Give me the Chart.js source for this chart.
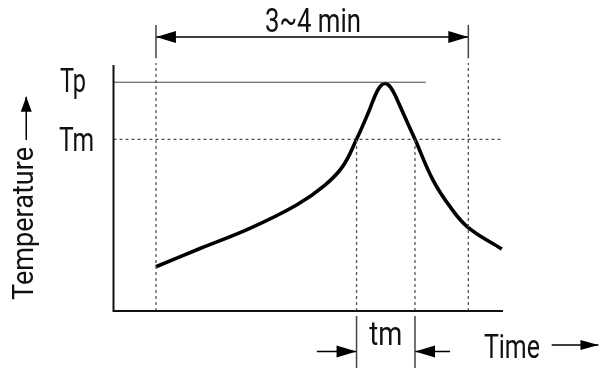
<!DOCTYPE html>
<html>
<head>
<meta charset="utf-8">
<script src="https://cdn.jsdelivr.net/npm/chart.js@4"></script>
<style>
html,body{margin:0;padding:0;background:#fff;}
#wrap{width:607px;height:369px;}
</style>
</head>
<body>
<div id="wrap"><canvas id="c" width="607" height="369"></canvas></div>
<script>
// ---- Data (schematic units: time 0..100, temperature 0..100) ----
const curveX = [10.9, 22.2, 35.0, 47.0, 54.3, 58.9, 62.4, 65.6, 66.6, 67.65, 68.7, 69.7, 70.7, 71.75, 72.8, 73.95, 77.4, 82.0, 86.4, 91.1, 99.7];
const curveY = [18.0, 25.4, 33.6, 43.1, 51.2, 58.9, 69.8, 81.3, 85.4, 89.2, 91.7, 92.5, 91.7, 89.4, 86.0, 81.9, 69.8, 53.3, 42.4, 33.9, 25.2];
const levelLabels = ['Tp', 'Tm'];
const levelValues = [93.0, 69.8];
const tpLineEnd = 80.2;
const markerTimes = [10.9, 62.4, 77.4, 91.1]; // profile start, tm start, tm end, profile end
const spanLabel = '3~4 min';
const tmLabel = 'tm';
const xLabel = 'Time';
const yLabel = 'Temperature';

// annotation levels (in chart units, outside plot area)
const spanY = 111.4, spanTickLo = 102.7, spanTickHi = 116.3, spanDotTop = 100.8;
const tmArrowY = -16.5, tmTickLo = -23.2, tmTickHi = -2.0;

const pts = (xs, ys) => xs.map((x, i) => ({x, y: ys[i]}));
const seg = (x1, y1, x2, y2) => [{x: x1, y: y1}, {x: x2, y: y2}];

const base = {pointRadius: 0, tension: 0, fill: false, borderColor: '#000', clip: false};
const datasets = [];

// axes
datasets.push({...base, data: [{x:0,y:100},{x:0,y:0},{x:100,y:0}], borderWidth: 2, borderColor: '#111'});
// Tp level line
datasets.push({...base, data: seg(0, levelValues[0], tpLineEnd, levelValues[0]), borderWidth: 1, borderColor: '#444'});
// Tm dotted level
datasets.push({...base, data: seg(0, levelValues[1], 100, levelValues[1]), borderWidth: 1, borderColor: '#222', borderDash: [3, 3]});
// vertical dotted markers
[markerTimes[0], markerTimes[3]].forEach(t => datasets.push({...base, data: seg(t, 0, t, spanDotTop), borderWidth: 1.3, borderColor: '#555', borderDash: [3, 3]}));
[markerTimes[1], markerTimes[2]].forEach(t => datasets.push({...base, data: seg(t, 0, t, levelValues[1]), borderWidth: 1.3, borderColor: '#555', borderDash: [3, 3]}));
// solid ticks
[markerTimes[0], markerTimes[3]].forEach(t => datasets.push({...base, data: seg(t, spanTickLo, t, spanTickHi), borderWidth: 1.5, borderColor: '#444'}));
[markerTimes[1], markerTimes[2]].forEach(t => datasets.push({...base, data: seg(t, tmTickLo, t, tmTickHi), borderWidth: 1.5, borderColor: '#444'}));
// span dimension line
datasets.push({...base, data: seg(markerTimes[0], spanY, markerTimes[3], spanY), borderWidth: 1.5});
// tm arrows lines
datasets.push({...base, data: seg(52.2, tmArrowY, markerTimes[1], tmArrowY), borderWidth: 1.5});
datasets.push({...base, data: seg(86.4, tmArrowY, markerTimes[2], tmArrowY), borderWidth: 1.5});
// axis-name arrows
datasets.push({...base, data: seg(112.5, -13.8, 124.5, -13.8), borderWidth: 1.5});
datasets.push({...base, data: seg(-22.4, 69.5, -22.4, 87.1), borderWidth: 1.5});
// temperature curve
datasets.push({...base, data: pts(curveX, curveY), borderWidth: 3.6, borderColor: '#000', tension: 0.4, borderCapStyle: 'butt', borderJoinStyle: 'round'});

const arrowHeads = [
  {x: markerTimes[0], y: spanY, dir: 'left'},
  {x: markerTimes[3], y: spanY, dir: 'right'},
  {x: markerTimes[1], y: tmArrowY, dir: 'right'},
  {x: markerTimes[2], y: tmArrowY, dir: 'left'},
  {x: 124.5, y: -13.8, dir: 'right', len: 18, hw: 5},
  {x: -22.4, y: 87.1, dir: 'up', len: 15, hw: 5.5}
];

const FONT = "Roboto, 'Liberation Sans', sans-serif";

function drawText(ctx, text, px, py, targetW, size, align, rot) {
  ctx.save();
  ctx.font = size + 'px ' + FONT;
  const w = ctx.measureText(text).width;
  const sx = targetW / w;
  ctx.translate(px, py);
  if (rot) ctx.rotate(rot);
  ctx.scale(sx, 1);
  ctx.textBaseline = 'alphabetic';
  ctx.fillStyle = '#111';
  let ox = 0;
  if (align === 'center') ox = -w / 2;
  else if (align === 'right') ox = -w;
  ctx.fillText(text, ox, 0);
  ctx.restore();
}

const annot = {
  id: 'annot',
  afterDatasetsDraw(chart) {
    const ctx = chart.ctx, xs = chart.scales.x, ys = chart.scales.y;
    const X = v => xs.getPixelForValue(v), Y = v => ys.getPixelForValue(v);
    ctx.save();
    ctx.fillStyle = '#000';
    arrowHeads.forEach(a => {
      const len = a.len || 20, hw = a.hw || 6;
      const px = X(a.x), py = Y(a.y);
      ctx.beginPath();
      if (a.dir === 'left') { ctx.moveTo(px, py); ctx.lineTo(px + len, py - hw); ctx.lineTo(px + len, py + hw); }
      else if (a.dir === 'right') { ctx.moveTo(px, py); ctx.lineTo(px - len, py - hw); ctx.lineTo(px - len, py + hw); }
      else if (a.dir === 'up') { ctx.moveTo(px, py); ctx.lineTo(px - hw, py + len); ctx.lineTo(px + hw, py + len); }
      ctx.closePath();
      ctx.fill();
    });
    ctx.restore();
    // texts
    drawText(ctx, spanLabel, X((markerTimes[0] + markerTimes[3]) / 2 + 0.2), Y(113.6), 96, 33, 'center');
    drawText(ctx, levelLabels[0], 60, Y(levelValues[0]) + 9.6, 26, 33, 'left');
    drawText(ctx, levelLabels[1], 59, Y(levelValues[1]) + 11.4, 35, 33, 'left');
    drawText(ctx, tmLabel, X((markerTimes[1] + markerTimes[2]) / 2), Y(-13.8), 33, 33, 'center');
    drawText(ctx, xLabel, X(95.1), Y(-19.1), 56, 34, 'left');
    drawText(ctx, yLabel, X(-20.7), Y(4.5), 153, 29, 'left', -Math.PI / 2);
  }
};

new Chart(document.getElementById('c'), {
  type: 'line',
  data: {datasets},
  options: {
    responsive: false,
    animation: false,
    layout: {padding: {left: 113.5, right: 104, top: 65, bottom: 58}},
    scales: {
      x: {type: 'linear', min: 0, max: 100, display: false},
      y: {type: 'linear', min: 0, max: 100, display: false}
    },
    plugins: {legend: {display: false}, tooltip: {enabled: false}}
  },
  plugins: [annot]
});
</script>
</body>
</html>
